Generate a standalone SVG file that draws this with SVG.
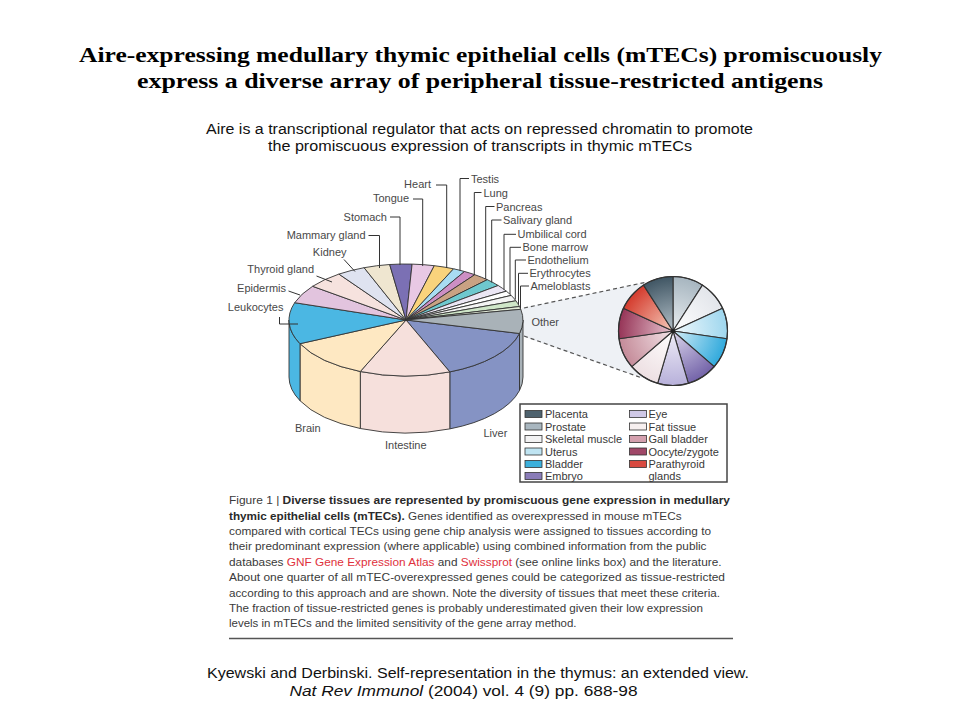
<svg xmlns="http://www.w3.org/2000/svg" width="960" height="720" viewBox="0 0 960 720">
<defs>
<style>
.ttl{font-family:"Liberation Serif","Times New Roman",serif;font-weight:bold;font-size:21.5px;fill:#000}
.sub{font-family:"Liberation Sans",Arial,sans-serif;font-size:14px;fill:#111}
.lbl{font-family:"Liberation Sans",Arial,sans-serif;font-size:11px;fill:#484848}
.leg{font-family:"Liberation Sans",Arial,sans-serif;font-size:11px;fill:#383838}
.cap{font-family:"Liberation Sans",Arial,sans-serif;font-size:11.5px;fill:#3a3a3a}
.b{font-weight:bold;fill:#2a2a2a}
.red{fill:#e0313c}
.sl{stroke:#333;stroke-width:0.9;stroke-linejoin:round}
.ld{fill:none;stroke:#333;stroke-width:1}
.dash{fill:none;stroke:#555;stroke-width:1.2;stroke-dasharray:4 3}
.sw{stroke:#333;stroke-width:0.8}
.isl{stroke:#333;stroke-width:1.1;stroke-linejoin:round}
</style>
<radialGradient id="gPla" gradientUnits="userSpaceOnUse" cx="673" cy="331" r="55"><stop offset="0" stop-color="#b4c0c8"/><stop offset="1" stop-color="#3f5563"/></radialGradient>
<radialGradient id="gPro" gradientUnits="userSpaceOnUse" cx="673" cy="331" r="55"><stop offset="0" stop-color="#eaeef1"/><stop offset="1" stop-color="#a6b5bf"/></radialGradient>
<radialGradient id="gSke" gradientUnits="userSpaceOnUse" cx="673" cy="331" r="55"><stop offset="0" stop-color="#ffffff"/><stop offset="1" stop-color="#e2e5ea"/></radialGradient>
<radialGradient id="gUte" gradientUnits="userSpaceOnUse" cx="673" cy="331" r="55"><stop offset="0" stop-color="#f2f9fc"/><stop offset="1" stop-color="#9dd6ee"/></radialGradient>
<radialGradient id="gBla" gradientUnits="userSpaceOnUse" cx="673" cy="331" r="55"><stop offset="0" stop-color="#d4edf7"/><stop offset="1" stop-color="#2fa9dc"/></radialGradient>
<radialGradient id="gEmb" gradientUnits="userSpaceOnUse" cx="673" cy="331" r="55"><stop offset="0" stop-color="#ddd8ed"/><stop offset="1" stop-color="#7262a8"/></radialGradient>
<radialGradient id="gEye" gradientUnits="userSpaceOnUse" cx="673" cy="331" r="55"><stop offset="0" stop-color="#f0eef8"/><stop offset="1" stop-color="#b7b0da"/></radialGradient>
<radialGradient id="gFat" gradientUnits="userSpaceOnUse" cx="673" cy="331" r="55"><stop offset="0" stop-color="#ffffff"/><stop offset="1" stop-color="#eddfe2"/></radialGradient>
<radialGradient id="gGal" gradientUnits="userSpaceOnUse" cx="673" cy="331" r="55"><stop offset="0" stop-color="#f3e4e8"/><stop offset="1" stop-color="#c48a98"/></radialGradient>
<radialGradient id="gOoc" gradientUnits="userSpaceOnUse" cx="673" cy="331" r="55"><stop offset="0" stop-color="#e9c6d1"/><stop offset="1" stop-color="#953356"/></radialGradient>
<radialGradient id="gPar" gradientUnits="userSpaceOnUse" cx="673" cy="331" r="55"><stop offset="0" stop-color="#f5ccbc"/><stop offset="1" stop-color="#d43a2c"/></radialGradient>
</defs>
<rect width="960" height="720" fill="#ffffff"/>

<g id="title">
<text class="ttl" x="480.5" y="62" text-anchor="middle" textLength="803" lengthAdjust="spacingAndGlyphs">Aire-expressing medullary thymic epithelial cells (mTECs) promiscuously</text>
<text class="ttl" x="480" y="88" text-anchor="middle" textLength="686" lengthAdjust="spacingAndGlyphs">express a diverse array of peripheral tissue-restricted  antigens</text>
</g>

<g id="subtitle">
<text class="sub" x="479.5" y="134" text-anchor="middle" textLength="547" lengthAdjust="spacingAndGlyphs">Aire is a transcriptional regulator that acts on repressed chromatin to promote</text>
<text class="sub" x="480" y="151" text-anchor="middle" textLength="424" lengthAdjust="spacingAndGlyphs">the promiscuous expression of transcripts in thymic mTECs</text>
</g>

<g id="cone">
<polygon points="522,308 647,282 673,331 642,378 522,336" fill="#eef1f5"/>
</g>

<g id="pie3d">
<g id="pie-sides" class="sl">
<path fill="#a9b2b8" d="M523,320 A117,56 0 0 1 519.5,333.5 L519.5,390.5 A117,56 0 0 0 523,377 Z"/>
<path fill="#8593c4" d="M519.5,333.5 A117,56 0 0 1 449.8,371.9 L449.8,428.9 A117,56 0 0 0 519.5,390.5 Z"/>
<path fill="#f6e0dc" d="M449.8,371.9 A117,56 0 0 1 360.3,371.5 L360.3,428.5 A117,56 0 0 0 449.8,428.9 Z"/>
<path fill="#fee8c2" d="M360.3,371.5 A117,56 0 0 1 300,343.7 L300,400.7 A117,56 0 0 0 360.3,428.5 Z"/>
<path fill="#4bb7e3" d="M300,343.7 A117,56 0 0 1 289,320 L289,377 A117,56 0 0 0 300,400.7 Z"/>
</g>
<g id="pie-top" class="sl">
<path id="s-liver" fill="#8593c4" d="M406,320 L519.5,333.5 A117,56 0 0 1 449.8,371.9 Z"/>
<path id="s-intestine" fill="#f6e0dc" d="M406,320 L449.8,371.9 A117,56 0 0 1 360.3,371.5 Z"/>
<path id="s-brain" fill="#fee8c2" d="M406,320 L360.3,371.5 A117,56 0 0 1 300,343.7 Z"/>
<path id="s-leukocytes" fill="#4bb7e3" d="M406,320 L300,343.7 A117,56 0 0 1 294.7,302.7 Z"/>
<path id="s-epidermis" fill="#e2c4de" d="M406,320 L294.7,302.7 A117,56 0 0 1 312.6,286.3 Z"/>
<path id="s-thyroid" fill="#f6e2de" d="M406,320 L312.6,286.3 A117,56 0 0 1 338.9,274.1 Z"/>
<path id="s-kidney" fill="#dfe3f0" d="M406,320 L338.9,274.1 A117,56 0 0 1 364.1,267.7 Z"/>
<path id="s-mammary" fill="#efe6d0" d="M406,320 L364.1,267.7 A117,56 0 0 1 389.7,264.5 Z"/>
<path id="s-stomach" fill="#7b70b4" d="M406,320 L389.7,264.5 A117,56 0 0 1 412.1,264.1 Z"/>
<path id="s-tongue" fill="#e8c8e4" d="M406,320 L412.1,264.1 A117,56 0 0 1 434.3,265.7 Z"/>
<path id="s-heart" fill="#f9d37c" d="M406,320 L434.3,265.7 A117,56 0 0 1 453.6,268.8 Z"/>
<path id="s-testis" fill="#a8dcf2" d="M406,320 L453.6,268.8 A117,56 0 0 1 464.5,271.5 Z"/>
<path id="s-lung" fill="#cc8fc4" d="M406,320 L464.5,271.5 A117,56 0 0 1 474.8,274.7 Z"/>
<path id="s-pancreas" fill="#c9a283" d="M406,320 L474.8,274.7 A117,56 0 0 1 487.3,279.7 Z"/>
<path id="s-salivary" fill="#6ec8ce" d="M406,320 L487.3,279.7 A117,56 0 0 1 498.2,285.5 Z"/>
<path id="s-umbilical" fill="#ebe6f4" d="M406,320 L498.2,285.5 A117,56 0 0 1 506.3,291.2 Z"/>
<path id="s-bonemarrow" fill="#ffffff" d="M406,320 L506.3,291.2 A117,56 0 0 1 511.2,295.4 Z"/>
<path id="s-endothelium" fill="#f4f4f4" d="M406,320 L511.2,295.4 A117,56 0 0 1 515.9,300.8 Z"/>
<path id="s-erythrocytes" fill="#cfe6c8" d="M406,320 L515.9,300.8 A117,56 0 0 1 519.5,306.5 Z"/>
<path id="s-ameloblasts" fill="#e3ecd9" d="M406,320 L519.5,306.5 A117,56 0 0 1 520.8,309.3 Z"/>
<path id="s-other" fill="#a9b2b8" d="M406,320 L520.8,309.3 A117,56 0 0 1 519.5,333.5 Z"/>
</g>
</g>

<g id="inset-pie">
<path class="isl" fill="url(#gPro)" d="M673,331 L673,276.5 A54.5,54.5 0 0 1 702.46,285.15 Z"/>
<path class="isl" fill="url(#gSke)" d="M673,331 L702.46,285.15 A54.5,54.5 0 0 1 722.57,308.36 Z"/>
<path class="isl" fill="url(#gUte)" d="M673,331 L722.57,308.36 A54.5,54.5 0 0 1 726.94,338.76 Z"/>
<path class="isl" fill="url(#gBla)" d="M673,331 L726.94,338.76 A54.5,54.5 0 0 1 714.19,366.69 Z"/>
<path class="isl" fill="url(#gEmb)" d="M673,331 L714.19,366.69 A54.5,54.5 0 0 1 688.35,383.29 Z"/>
<path class="isl" fill="url(#gEye)" d="M673,331 L688.35,383.29 A54.5,54.5 0 0 1 657.65,383.29 Z"/>
<path class="isl" fill="url(#gFat)" d="M673,331 L657.65,383.29 A54.5,54.5 0 0 1 631.81,366.69 Z"/>
<path class="isl" fill="url(#gGal)" d="M673,331 L631.81,366.69 A54.5,54.5 0 0 1 619.06,338.76 Z"/>
<path class="isl" fill="url(#gOoc)" d="M673,331 L619.06,338.76 A54.5,54.5 0 0 1 623.43,308.36 Z"/>
<path class="isl" fill="url(#gPar)" d="M673,331 L623.43,308.36 A54.5,54.5 0 0 1 643.54,285.15 Z"/>
<path class="isl" fill="url(#gPla)" d="M673,331 L643.54,285.15 A54.5,54.5 0 0 1 673,276.5 Z"/>
<circle cx="673" cy="331" r="54.5" fill="none" stroke="#333" stroke-width="1.2"/>
<circle cx="673" cy="331" r="2.2" fill="#222"/>
</g>

<g id="connectors">
<path class="dash" d="M524,308 L647,282"/>
<path class="dash" d="M524,336 L642,378"/>
<path class="ld" d="M436,185 H446.7 V268"/>
<path class="ld" d="M413,199 H422.7 V266"/>
<path class="ld" d="M390,217 H400 V265"/>
<path class="ld" d="M368.5,235.5 H379.5 V268"/>
<path class="ld" d="M344,259.5 L355,271.5"/>
<path class="ld" d="M316.5,276 L332,282"/>
<path class="ld" d="M288.5,291 L300,295"/>
<path class="ld" d="M279.5,317 V324 H298"/>
<path class="ld" d="M469,178.5 H460 V271"/>
<path class="ld" d="M481.5,192.5 H474.3 V275"/>
<path class="ld" d="M494.5,206.5 H485.7 V279"/>
<path class="ld" d="M501.5,220 H491.7 V282.5"/>
<path class="ld" d="M516,234.3 H504 V289.5"/>
<path class="ld" d="M521,247.3 H510 V294"/>
<path class="ld" d="M526,260 H515.3 V299.5"/>
<path class="ld" d="M528,273.3 H518.5 V304.5"/>
<path class="ld" d="M529,286 H520.5 V308" stroke-width="1.3"/>
</g>

<g id="labels">
<g id="lbl-heart"><text class="lbl" x="431" y="188" text-anchor="end">Heart</text></g>
<g id="lbl-tongue"><text class="lbl" x="409" y="202" text-anchor="end">Tongue</text></g>
<g id="lbl-stomach"><text class="lbl" x="387" y="220.5" text-anchor="end">Stomach</text></g>
<g id="lbl-mammary"><text class="lbl" x="365.5" y="239" text-anchor="end">Mammary gland</text></g>
<g id="lbl-kidney"><text class="lbl" x="346.5" y="255.5" text-anchor="end">Kidney</text></g>
<g id="lbl-thyroid"><text class="lbl" x="314" y="272.5" text-anchor="end">Thyroid gland</text></g>
<g id="lbl-epidermis"><text class="lbl" x="286" y="292" text-anchor="end">Epidermis</text></g>
<g id="lbl-leukocytes"><text class="lbl" x="283.5" y="310.5" text-anchor="end">Leukocytes</text></g>
<g id="lbl-testis"><text class="lbl" x="471" y="182.5">Testis</text></g>
<g id="lbl-lung"><text class="lbl" x="483.5" y="196.5">Lung</text></g>
<g id="lbl-pancreas"><text class="lbl" x="496" y="210.5">Pancreas</text></g>
<g id="lbl-salivary"><text class="lbl" x="503" y="224">Salivary gland</text></g>
<g id="lbl-umbilical"><text class="lbl" x="517.5" y="238">Umbilical cord</text></g>
<g id="lbl-bonemarrow"><text class="lbl" x="522.5" y="251">Bone marrow</text></g>
<g id="lbl-endothelium"><text class="lbl" x="527.5" y="264">Endothelium</text></g>
<g id="lbl-erythrocytes"><text class="lbl" x="529.5" y="277">Erythrocytes</text></g>
<g id="lbl-ameloblasts"><text class="lbl" x="530.5" y="290">Ameloblasts</text></g>
<g id="lbl-other"><text class="lbl" x="531.5" y="325.5">Other</text></g>
<g id="lbl-brain"><text class="lbl" x="295" y="432">Brain</text></g>
<g id="lbl-intestine"><text class="lbl" x="385" y="449">Intestine</text></g>
<g id="lbl-liver"><text class="lbl" x="483.5" y="436.5">Liver</text></g>
</g>

<g id="legend">
<rect x="520" y="404" width="207" height="78" fill="#ffffff" stroke="#444" stroke-width="1.5"/>
<rect class="sw" x="525" y="410.5" width="17" height="7" fill="#4e626e"/>
<rect class="sw" x="525" y="423" width="17" height="7" fill="#a8b6bf"/>
<rect class="sw" x="525" y="435.5" width="17" height="7" fill="#f2f2f3"/>
<rect class="sw" x="525" y="448" width="17" height="7" fill="#bfe4f2"/>
<rect class="sw" x="525" y="460.5" width="17" height="7" fill="#3cb0dc"/>
<rect class="sw" x="525" y="472.5" width="17" height="7" fill="#8a7cb8"/>
<text class="leg" x="545" y="418">Placenta</text>
<text class="leg" x="545" y="430.5">Prostate</text>
<text class="leg" x="545" y="443">Skeletal muscle</text>
<text class="leg" x="545" y="455.5">Uterus</text>
<text class="leg" x="545" y="468">Bladder</text>
<text class="leg" x="545" y="480">Embryo</text>
<rect class="sw" x="629.5" y="410.5" width="17" height="7" fill="#cfc8e6"/>
<rect class="sw" x="629.5" y="423" width="17" height="7" fill="#f7f0f0"/>
<rect class="sw" x="629.5" y="435.5" width="17" height="7" fill="#d4a0ae"/>
<rect class="sw" x="629.5" y="448" width="17" height="7" fill="#a04868"/>
<rect class="sw" x="629.5" y="460.5" width="17" height="7" fill="#d84a40"/>
<text class="leg" x="648.5" y="418">Eye</text>
<text class="leg" x="648.5" y="430.5">Fat tissue</text>
<text class="leg" x="648.5" y="443">Gall bladder</text>
<text class="leg" x="648.5" y="455.5">Oocyte/zygote</text>
<text class="leg" x="648.5" y="468">Parathyroid</text>
<text class="leg" x="648.5" y="480">glands</text>
</g>

<g id="caption">
<text class="cap" x="229" y="504" textLength="501" lengthAdjust="spacingAndGlyphs">Figure 1 | <tspan class="b">Diverse tissues are represented by promiscuous gene expression in medullary</tspan></text>
<text class="cap" x="229" y="520" textLength="452.5" lengthAdjust="spacingAndGlyphs"><tspan class="b">thymic epithelial cells (mTECs).</tspan> Genes identified as overexpressed in mouse mTECs</text>
<text class="cap" x="229" y="535" textLength="482" lengthAdjust="spacingAndGlyphs">compared with cortical TECs using gene chip analysis were assigned to tissues according to</text>
<text class="cap" x="229" y="550" textLength="477.5" lengthAdjust="spacingAndGlyphs">their predominant expression (where applicable) using combined information from the public</text>
<text class="cap" x="229" y="565.5" textLength="492.5" lengthAdjust="spacingAndGlyphs">databases <tspan class="red">GNF Gene Expression Atlas</tspan> and <tspan class="red">Swissprot</tspan> (see online links box) and the literature.</text>
<text class="cap" x="229" y="581" textLength="496" lengthAdjust="spacingAndGlyphs">About one quarter of all mTEC-overexpressed genes could be categorized as tissue-restricted</text>
<text class="cap" x="229" y="596.5" textLength="491" lengthAdjust="spacingAndGlyphs">according to this approach and are shown. Note the diversity of tissues that meet these criteria.</text>
<text class="cap" x="229" y="612" textLength="474" lengthAdjust="spacingAndGlyphs">The fraction of tissue-restricted genes is probably underestimated given their low expression</text>
<text class="cap" x="229" y="627" textLength="347.5" lengthAdjust="spacingAndGlyphs">levels in mTECs and the limited sensitivity of the gene array method.</text>
<line x1="229" y1="638.5" x2="733" y2="638.5" stroke="#555" stroke-width="1.5"/>
</g>

<g id="footer">
<text class="sub" x="478" y="677.5" text-anchor="middle" textLength="542" lengthAdjust="spacingAndGlyphs">Kyewski and Derbinski. Self-representation in the thymus: an extended view.</text>
<text class="sub" x="463.5" y="695.5" text-anchor="middle" textLength="348" lengthAdjust="spacingAndGlyphs"><tspan font-style="italic">Nat Rev Immunol</tspan> (2004) vol. 4 (9) pp. 688-98</text>
</g>
</svg>
